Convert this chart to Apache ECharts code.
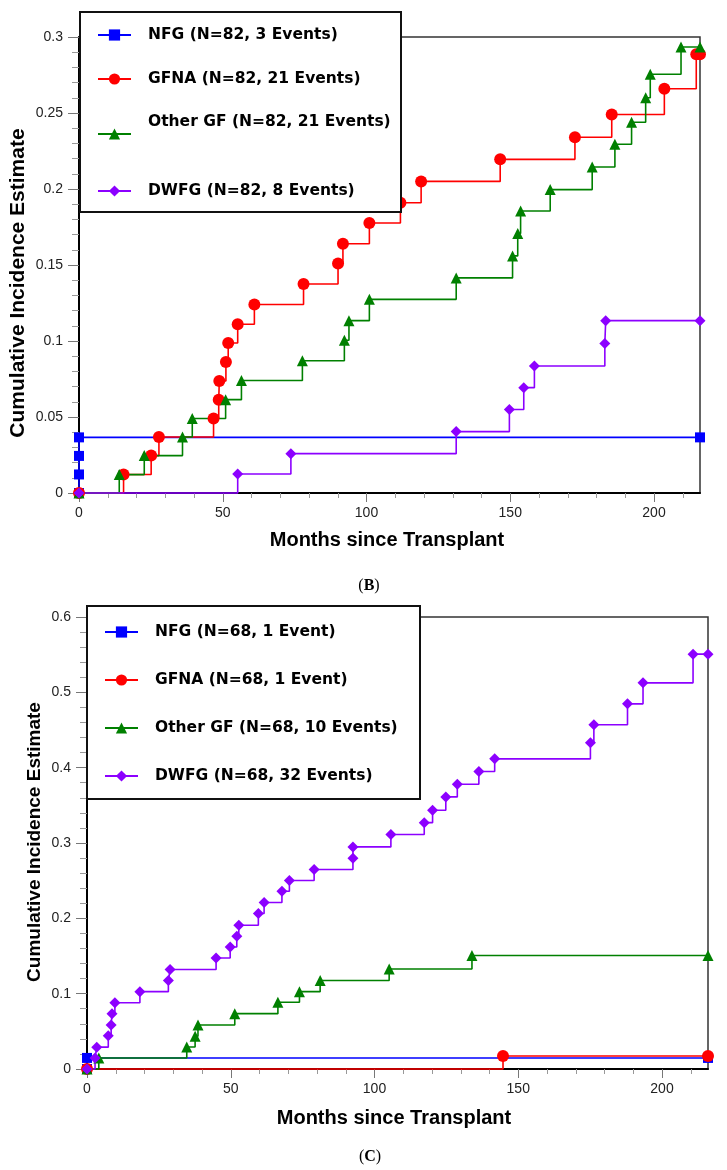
<!DOCTYPE html>
<html>
<head>
<meta charset="utf-8">
<script src="https://cdn.jsdelivr.net/npm/echarts@6/dist/echarts.min.js"></script>
<style>
html, body { margin: 0; padding: 0; background: #fff; }
#chart { width: 727px; height: 1170px; }
</style>
</head>
<body>
<div id="chart"></div>
<script>
// panel (B): N=82
var bNames = ['NFG (N=82, 3 Events)', 'GFNA (N=82, 21 Events)', 'Other GF (N=82, 21 Events)', 'DWFG (N=82, 8 Events)'];
var bNfgMonths = [0, 0, 0, 0, 216];
var bNfgCif = [0, 0.0122, 0.0244, 0.0366, 0.0366];
var bGfnaMonths = [0, 15.5, 25.1, 27.8, 46.8, 48.6, 48.8, 51.1, 51.9, 55.2, 61, 78.1, 90.1, 91.8, 101, 111.8, 119, 146.5, 172.5, 185.3, 203.6, 214.7, 216];
var bGfnaCif = [0, 0.0122, 0.0246, 0.0368, 0.049, 0.0614, 0.0737, 0.0862, 0.0987, 0.111, 0.124, 0.1375, 0.151, 0.164, 0.1776, 0.191, 0.205, 0.2195, 0.234, 0.249, 0.266, 0.2886, 0.2886];
var bOtherMonths = [0, 14, 22.7, 36, 39.4, 51, 56.5, 77.7, 92.3, 93.9, 101, 131.2, 150.8, 152.6, 153.6, 163.9, 178.5, 186.4, 192.2, 197.1, 198.7, 209.4, 216];
var bOtherCif = [0, 0.0121, 0.0246, 0.0368, 0.049, 0.0614, 0.074, 0.087, 0.1005, 0.1134, 0.1274, 0.1415, 0.156, 0.1707, 0.1855, 0.1996, 0.2145, 0.2294, 0.2439, 0.26, 0.2755, 0.2934, 0.2934];
var bDwfgMonths = [0, 55.2, 73.7, 131.2, 149.7, 154.7, 158.4, 182.9, 183.2, 216];
var bDwfgCif = [0, 0.0125, 0.0259, 0.0404, 0.0549, 0.0693, 0.0836, 0.0983, 0.1134, 0.1134];

// panel (C): N=68
var cNames = ['NFG (N=68, 1 Event)', 'GFNA (N=68, 1 Event)', 'Other GF (N=68, 10 Events)', 'DWFG (N=68, 32 Events)'];
var cNfgMonths = [0, 0, 216];
var cNfgCif = [0, 0.0147, 0.0147];
var cGfnaMonths = [0, 144.7, 216];
var cGfnaCif = [0, 0.0173, 0.0173];
var cOtherMonths = [0, 4.1, 34.7, 37.6, 38.6, 51.4, 66.4, 73.9, 81.1, 105.1, 133.9, 216];
var cOtherCif = [0, 0.0147, 0.0292, 0.0434, 0.0585, 0.0735, 0.0886, 0.1027, 0.1174, 0.1328, 0.1506, 0.1506];
var cDwfgMonths = [0, 2.8, 3.4, 7.4, 8.4, 8.7, 9.7, 18.4, 28.3, 28.9, 44.9, 49.8, 52.1, 52.8, 59.6, 61.6, 67.8, 70.4, 79, 92.5, 92.5, 105.7, 117.3, 120.2, 124.8, 128.8, 136.3, 141.8, 175.1, 176.3, 188, 193.4, 210.8, 216];
var cDwfgCif = [0, 0.0146, 0.029, 0.0443, 0.0585, 0.0735, 0.088, 0.1027, 0.1174, 0.132, 0.1474, 0.162, 0.1762, 0.1908, 0.2064, 0.221, 0.236, 0.2502, 0.2648, 0.2798, 0.2948, 0.3113, 0.327, 0.3435, 0.3612, 0.378, 0.395, 0.4117, 0.433, 0.457, 0.4847, 0.5126, 0.5507, 0.5507];

// axis ticks
var xTicks = [0, 50, 100, 150, 200];
var xMinorTicks = [10, 20, 30, 40, 60, 70, 80, 90, 110, 120, 130, 140, 160, 170, 180, 190, 210];

var colors = ['#0000ff', '#ff0000', '#008000', '#8c00ff'];
var symbols = ['rect', 'circle', 'triangle', 'diamond'];
var sizes = [10, 12, 11, 11];

var myChart = echarts.init(document.getElementById('chart'));

function zip(t, v) {
	var out = [];
	for (var i = 0; i < t.length; i++) out.push([t[i], v[i]]);
	return out;
}

function mkSeries(name, months, cif, k, gi) {
	return {
		name: name,
		type: 'line',
		step: 'end',
		xAxisIndex: gi * 2,
		yAxisIndex: gi,
		data: zip(months, cif),
		symbol: symbols[k],
		symbolSize: sizes[k],
		showSymbol: true,
		clip: false,
		lineStyle: { color: colors[k], width: 1.6 },
		itemStyle: { color: colors[k] },
		emphasis: { disabled: true }
	};
}

function mainX(gi) {
	return {
		gridIndex: gi, type: 'value', min: 0, max: 216, interval: 50,
		axisLine: { lineStyle: { color: '#000', width: 2 } },
		axisTick: { customValues: xTicks, length: 9, lineStyle: { color: '#777' } },
		axisLabel: { customValues: xTicks, margin: 13, fontSize: 14, color: '#222', fontFamily: 'Liberation Sans' },
		splitLine: { show: false }
	};
}
function minorX(gi) {
	return {
		gridIndex: gi, type: 'value', min: 0, max: 216, position: 'bottom',
		axisLine: { show: false },
		axisTick: { customValues: xMinorTicks, length: 5, lineStyle: { color: '#999' } },
		axisLabel: { show: false },
		splitLine: { show: false }
	};
}
function mainY(gi, max, step) {
	return {
		gridIndex: gi, type: 'value', min: 0, max: max, interval: step,
		axisLine: { show: true, lineStyle: { color: '#000', width: 2 } },
		axisTick: { show: true, length: 11, lineStyle: { color: '#777' } },
		minorTick: { show: true, splitNumber: 5, length: 7, lineStyle: { color: '#999' } },
		axisLabel: { margin: 16, fontSize: 14, color: '#222', fontFamily: 'Liberation Sans' },
		splitLine: { show: false }
	};
}

// one legend per entry so each can sit where it sits in the figure
function mkLegends(names, left, tops, raisedIdx) {
	var out = [];
	for (var i = 0; i < names.length; i++) {
		var lg = {
			data: [names[i]],
			left: left, top: tops[i],
			padding: 0,
			itemWidth: 33, itemHeight: 14,
			selectedMode: false,
			z: 20,
			textStyle: { fontFamily: 'DejaVu Sans', fontWeight: 'bold', fontSize: 15.5, color: '#000', lineHeight: 14, padding: [0, 0, 0, 12] }
		};
		if (i === raisedIdx) {
			// text sits a bit above its marker in the original
			lg.formatter = function (n) { return n + '\n '; };
			lg.textStyle.lineHeight = 24;
		}
		out.push(lg);
	}
	return out;
}

var option = {
	animation: false,
	backgroundColor: '#fff',
	grid: [
		{ left: 79, top: 37, width: 621, height: 456, show: true, borderColor: '#333', borderWidth: 1.5 },
		{ left: 87, top: 617, width: 621, height: 452, show: true, borderColor: '#333', borderWidth: 1.5 }
	],
	xAxis: [mainX(0), minorX(0), mainX(1), minorX(1)],
	yAxis: [mainY(0, 0.3, 0.05), mainY(1, 0.6, 0.1)],
	legend: mkLegends(bNames, 97, [27, 71, 110, 183], 2).concat(mkLegends(cNames, 104, [624, 672, 720, 768], -1)),
	graphic: [
		{ type: 'rect', z: 10, shape: { x: 80, y: 12, width: 321, height: 200 }, style: { fill: '#fff', stroke: '#111', lineWidth: 2 } },
		{ type: 'rect', z: 10, shape: { x: 87, y: 606, width: 333, height: 193 }, style: { fill: '#fff', stroke: '#111', lineWidth: 2 } },
		{ type: 'text', x: 18, y: 283, rotation: Math.PI / 2, style: { text: 'Cumulative Incidence Estimate', font: 'bold 21px "Liberation Sans"', fill: '#000', textAlign: 'center', textVerticalAlign: 'middle' } },
		{ type: 'text', x: 35, y: 842, rotation: Math.PI / 2, style: { text: 'Cumulative Incidence Estimate', font: 'bold 19px "Liberation Sans"', fill: '#000', textAlign: 'center', textVerticalAlign: 'middle' } },
		{ type: 'text', x: 387, y: 540, style: { text: 'Months since Transplant', font: 'bold 20px "Liberation Sans"', fill: '#000', textAlign: 'center', textVerticalAlign: 'middle' } },
		{ type: 'text', x: 394, y: 1118, style: { text: 'Months since Transplant', font: 'bold 20px "Liberation Sans"', fill: '#000', textAlign: 'center', textVerticalAlign: 'middle' } },
		{ type: 'text', x: 369, y: 586, style: { text: '({b|B})', font: '16px "Liberation Serif"', fill: '#000', textAlign: 'center', textVerticalAlign: 'middle', rich: { b: { fontWeight: 'bold', fontSize: 16, fontFamily: 'Liberation Serif' } } } },
		{ type: 'text', x: 370, y: 1157, style: { text: '({b|C})', font: '16px "Liberation Serif"', fill: '#000', textAlign: 'center', textVerticalAlign: 'middle', rich: { b: { fontWeight: 'bold', fontSize: 16, fontFamily: 'Liberation Serif' } } } }
	],
	series: [
		mkSeries(bNames[0], bNfgMonths, bNfgCif, 0, 0),
		mkSeries(bNames[1], bGfnaMonths, bGfnaCif, 1, 0),
		mkSeries(bNames[2], bOtherMonths, bOtherCif, 2, 0),
		mkSeries(bNames[3], bDwfgMonths, bDwfgCif, 3, 0),
		mkSeries(cNames[0], cNfgMonths, cNfgCif, 0, 1),
		mkSeries(cNames[1], cGfnaMonths, cGfnaCif, 1, 1),
		mkSeries(cNames[2], cOtherMonths, cOtherCif, 2, 1),
		mkSeries(cNames[3], cDwfgMonths, cDwfgCif, 3, 1)
	]
};
myChart.setOption(option);
</script>
</body>
</html>
